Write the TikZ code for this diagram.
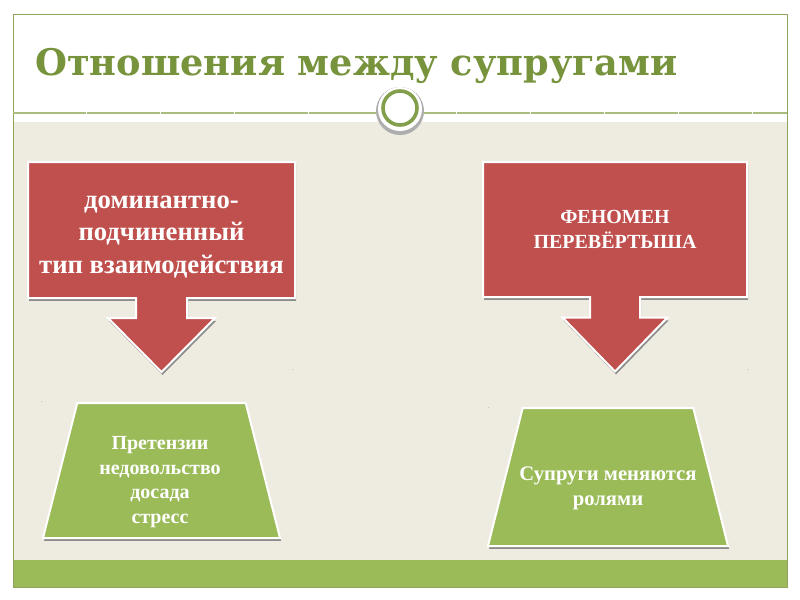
\documentclass[tikz,border=0pt]{standalone}
\usepackage{fontspec}
\setmainfont{Liberation Serif}
\newfontfamily\titlefont{DejaVu Serif}
\usetikzlibrary{shapes,shadows,calc}

\definecolor{slidebg}{HTML}{EEECE1}
\definecolor{boxred}{HTML}{C0504D}
\definecolor{boxgreen}{HTML}{9BBB59}
\definecolor{titlegreen}{HTML}{77933C}
\definecolor{framegreen}{HTML}{8FA55E}
\definecolor{rulegreen}{HTML}{A9BC80}
\definecolor{shadowgray}{HTML}{8C8C8C}

\begin{document}
\begin{tikzpicture}[x=0.75pt,y=-0.75pt]
\tikzstyle{shade}=[drop shadow={shadow xshift=0.8pt,shadow yshift=-2.2pt,fill=shadowgray,opacity=1}]
\tikzstyle{callout}=[fill=boxred,draw=white,line width=1.5pt,line join=miter,shade]
\tikzstyle{base}=[trapezium,trapezium stretches=true,trapezium angle=78.5,fill=boxgreen,draw=white,line width=1.5pt,shade,inner sep=2pt]
\tikzstyle{boxtext}=[text=white,align=center,inner sep=0pt]
\tikzstyle{dot}=[text=gray,font=\fontsize{5}{6}\selectfont,inner sep=0pt]

% slide
\fill[white] (0,0) rectangle (800,600);
\fill[slidebg] (13,122) rectangle (787,560);
\fill[boxgreen] (13,560) rectangle (787,587);
\draw[framegreen,line width=0.75pt] (13,14) rectangle (787,587);
\draw[rulegreen,line width=0.9pt,dash pattern=on 55pt off 0.5pt] (13,113) -- (787,113);
\fill[shadowgray!70] (400,111) circle (24);
\fill[white] (400,109) circle (22);
\draw[boxgreen!85!black,line width=2.7pt] (400,108) circle (17);

\node[anchor=base west,text=titlegreen,font=\titlefont\bfseries\fontsize{27.5}{34}\selectfont,inner sep=0pt] (title) at (35,75) {Отношения между супругами};

% callouts
\coordinate (domc) at (161.5,230);
\coordinate (flipc) at (615,229.5);
\draw[callout] ($(domc)+(-133.5,-68)$) -- ++(267,0) -- ++(0,136) -- ++(-108,0) -- ++(0,20) -- ++(28,0)
  -- ++(-53.5,54) -- ++(-53.5,-54) -- ++(28,0) -- ++(0,-20) -- ++(-108,0) -- cycle;
\draw[callout] ($(flipc)+(-132,-67.5)$) -- ++(264,0) -- ++(0,135) -- ++(-107,0) -- ++(0,20.5) -- ++(27.5,0)
  -- ++(-52.5,54) -- ++(-52.5,-54) -- ++(27.5,0) -- ++(0,-20.5) -- ++(-107,0) -- cycle;

\node[boxtext,font=\bfseries\fontsize{20}{24.5}\selectfont] (dom) at ($(domc)+(0,7)$) {доминантно-\\подчиненный\\тип взаимодействия};
\node[boxtext,font=\bfseries\fontsize{15}{19}\selectfont] (flip) at (flipc) {ФЕНОМЕН\\ПЕРЕВЁРТЫША};

% bases
\node[base,minimum width=177.75pt,minimum height=101.25pt] (claims) at (161.5,470.5) {};
\node[base,minimum width=180pt,minimum height=103.5pt] (roles) at (608,477) {};
\node[boxtext,font=\bfseries\fontsize{15}{18.4}\selectfont] (claimstext) at (160,482) {Претензии\\недовольство\\досада\\стресс};
\node[boxtext,font=\bfseries\fontsize{15.5}{19}\selectfont] (rolestext) at (608,488.5) {Супруги меняются\\ролями};

% stray dots
\node[dot] (d1) at (293,370) {.};
\node[dot] (d2) at (42,402) {.};
\node[dot] (d3) at (748,370) {.};
\node[dot] (d4) at (489,408) {.};
\end{tikzpicture}
\end{document}
